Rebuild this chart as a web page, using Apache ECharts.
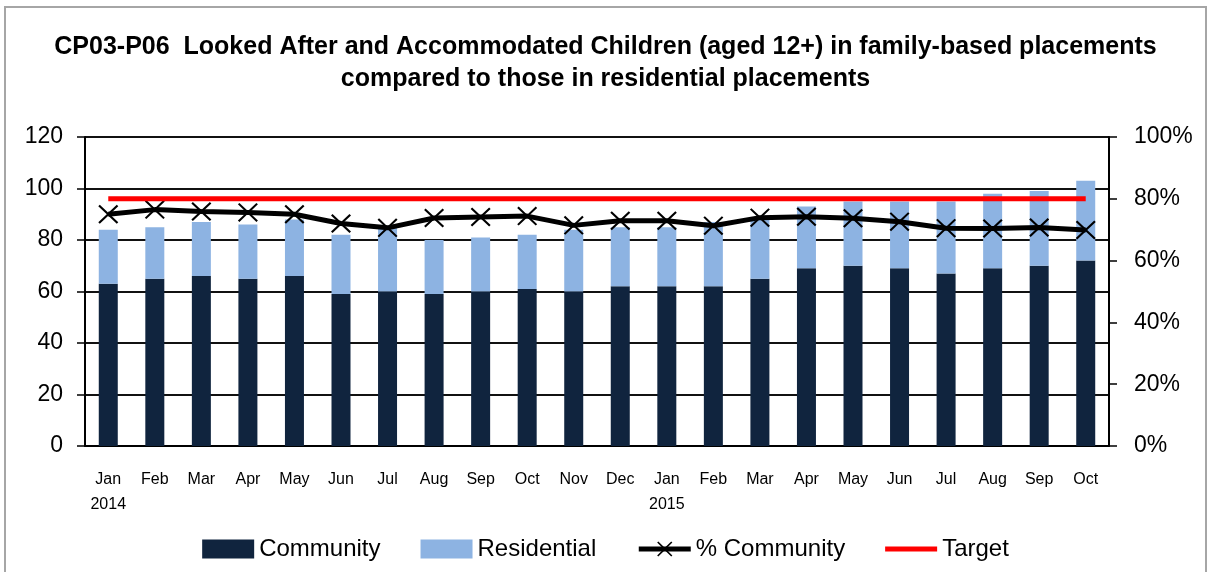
<!doctype html>
<html>
<head>
<meta charset="utf-8">
<title>CP03-P06</title>
<script src="https://cdn.jsdelivr.net/npm/echarts@6/dist/echarts.min.js"></script>
<style>
  html, body { margin: 0; padding: 0; background: #fff; }
  #chart { width: 1211px; height: 572px; }
</style>
</head>
<body>
<div id="chart"></div>
<script>
  // months along the x axis (year shown under January)
  var months = ['Jan\n2014', 'Feb', 'Mar', 'Apr', 'May', 'Jun', 'Jul', 'Aug', 'Sep', 'Oct', 'Nov', 'Dec',
    'Jan\n2015', 'Feb', 'Mar', 'Apr', 'May', 'Jun', 'Jul', 'Aug', 'Sep', 'Oct'];
  var community = [63, 65, 66, 65, 66, 59, 60, 59, 60, 61, 60, 62, 62, 62, 65, 69, 70, 69, 67, 69, 70, 72];
  var residential = [21, 20, 21, 21, 22, 23, 25, 21, 21, 21, 24, 23, 23, 25, 23, 24, 25, 26, 28, 29, 29, 31];
  var pctCommunity = [75.0, 76.5, 75.9, 75.6, 75.0, 72.0, 70.6, 73.8, 74.1, 74.4, 71.4, 72.9,
    72.9, 71.3, 73.9, 74.2, 73.7, 72.6, 70.5, 70.4, 70.7, 69.9];
  var target = [80, 80, 80, 80, 80, 80, 80, 80, 80, 80, 80, 80, 80, 80, 80, 80, 80, 80, 80, 80, 80, 80];

  var font = 'Liberation Sans';
  var xMark = 'path://M0,1.5 L1.5,0 L10,8.5 L18.5,0 L20,1.5 L11.5,10 L20,18.5 L18.5,20 L10,11.5 L1.5,20 L0,18.5 L8.5,10 Z';
  // thick red bar in the middle of the legend box, with corner points to keep its box size
  var targetIcon = 'path://M0,0 L0,0 M0,7 L52,7 L52,12 L0,12 Z M52,19 L52,19';

  var chart = echarts.init(document.getElementById('chart'));
  chart.setOption({
    animation: false,
    textStyle: { fontFamily: font },
    graphic: [{
      type: 'rect',
      shape: { x: 5, y: 7, width: 1201, height: 580 },
      style: { fill: 'none', stroke: '#a6a6a6', lineWidth: 2 },
      silent: true
    }],
    title: {
      text: 'CP03-P06  Looked After and Accommodated Children (aged 12+) in family-based placements\ncompared to those in residential placements',
      left: 'center',
      top: 26,
      textStyle: { fontFamily: font, fontSize: 25, fontWeight: 'bold', color: '#000', lineHeight: 32 }
    },
    legend: {
      bottom: 6,
      left: 'center',
      itemWidth: 52,
      itemHeight: 19,
      itemGap: 40,
      lineStyle: { width: 'inherit' },
      textStyle: { fontFamily: font, fontSize: 24, color: '#000' },
      data: [
        { name: 'Community', icon: 'rect' },
        { name: 'Residential', icon: 'rect' },
        { name: '% Community' },
        { name: 'Target', icon: targetIcon }
      ]
    },
    grid: { left: 85, right: 102, top: 137, bottom: 126 },
    xAxis: {
      type: 'category',
      data: months,
      boundaryGap: true,
      axisLine: { lineStyle: { color: '#000', width: 2 } },
      axisTick: { length: 7, lineStyle: { color: '#000', width: 1.5 } },
      axisLabel: { interval: 0, fontSize: 16, color: '#000', lineHeight: 25, margin: 21, fontFamily: font }
    },
    yAxis: [{
      type: 'value',
      min: 0, max: 120, interval: 20,
      axisLine: { show: true, lineStyle: { color: '#000', width: 2 } },
      axisTick: { show: true, length: 8, lineStyle: { color: '#000', width: 1.5 } },
      axisLabel: { fontSize: 23, color: '#000', margin: 22, fontFamily: font },
      splitLine: { lineStyle: { color: '#111', width: 2 } }
    }, {
      type: 'value',
      min: 0, max: 100, interval: 20,
      axisLine: { show: true, lineStyle: { color: '#000', width: 2 } },
      axisTick: { show: true, length: 8, lineStyle: { color: '#000', width: 1.5 } },
      axisLabel: { fontSize: 23, color: '#000', margin: 25, formatter: '{value}%', fontFamily: font },
      splitLine: { show: false }
    }],
    series: [{
      name: 'Community',
      type: 'bar',
      stack: 'total',
      barWidth: 19,
      itemStyle: { color: '#10243e' },
      data: community
    }, {
      name: 'Residential',
      type: 'bar',
      stack: 'total',
      barWidth: 19,
      itemStyle: { color: '#8db3e2' },
      data: residential
    }, {
      name: '% Community',
      type: 'line',
      yAxisIndex: 1,
      symbol: xMark,
      symbolSize: [20, 19],
      itemStyle: { color: '#000' },
      lineStyle: { color: '#000', width: 5 },
      data: pctCommunity,
      z: 3
    }, {
      name: 'Target',
      type: 'line',
      yAxisIndex: 1,
      symbol: 'none',
      itemStyle: { color: '#ff0000' },
      lineStyle: { color: '#ff0000', width: 5 },
      data: target,
      z: 4
    }]
  });
</script>
</body>
</html>
